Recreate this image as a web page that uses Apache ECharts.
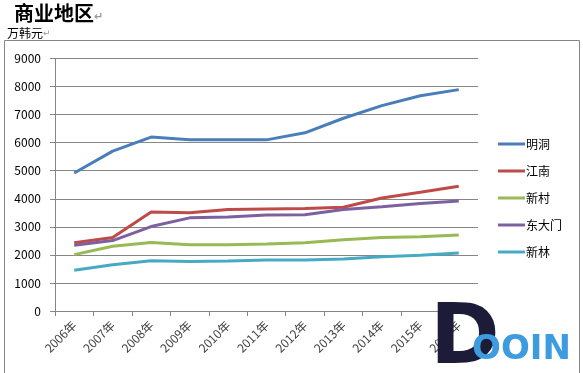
<!DOCTYPE html>
<html><head><meta charset="utf-8">
<script src="https://cdn.jsdelivr.net/npm/echarts@6/dist/echarts.min.js"></script>
<style>html,body{margin:0;padding:0;background:#fff}#c{width:583px;height:373px}</style>
</head><body><div id="c"></div>
<script>
const categories = ['2006年','2007年','2008年','2009年','2010年','2011年','2012年','2013年','2014年','2015年','2016年'];
const seriesNames = ['明洞','江南','新村','东大门','新林'];
const myeongdong = [4920, 5700, 6200, 6100, 6100, 6100, 6350, 6870, 7320, 7670, 7890];
const gangnam    = [2430, 2620, 3530, 3500, 3620, 3640, 3650, 3700, 4030, 4230, 4450];
const sinchon    = [2010, 2310, 2440, 2360, 2360, 2390, 2430, 2540, 2620, 2650, 2710];
const dongdaemun = [2340, 2510, 3010, 3320, 3350, 3420, 3430, 3620, 3720, 3830, 3920];
const sillim     = [1450, 1650, 1790, 1760, 1780, 1820, 1820, 1850, 1930, 1990, 2070];
const yTicks = [0, 1000, 2000, 3000, 4000, 5000, 6000, 7000, 8000, 9000];
const colors = ['#4A7EBB','#BE4B48','#98B954','#7D60A0','#46AAC5'];
const values = [myeongdong, gangnam, sinchon, dongdaemun, sillim];

const chart = echarts.init(document.getElementById('c'), null, {renderer:'canvas'});
const FONT = '"Noto Sans CJK SC", "DejaVu Sans", sans-serif';
chart.setOption({
  animation:false,
  textStyle:{fontFamily:FONT},
  title:[{
    text:'{t|商业地区}{m|↵}',
    left:9, top:-2,
    textStyle:{rich:{
      t:{fontSize:20, fontWeight:'bold', color:'#000', fontFamily:'"Noto Sans CJK SC"'},
      m:{fontSize:11, color:'#999', padding:[6,0,0,0]}
    }}
  },{
    text:'{t|万韩元}{m|↵}',
    left:2, top:22,
    textStyle:{fontWeight:'normal', rich:{
      t:{fontSize:12, color:'#000', fontWeight:'normal', fontFamily:'"Noto Sans CJK SC"'},
      m:{fontSize:9, color:'#999', fontWeight:'normal'}
    }}
  }],
  graphic:[
    {type:'rect', shape:{x:4.5,y:40.5,width:575,height:340}, style:{fill:'none', stroke:'#868686', lineWidth:1}, z:-1},
    {type:'text', left:430, top:299, style:{text:'D', fontSize:84, fontWeight:'bold', fill:'#1c1c38', fontFamily:'"DejaVu Sans"'}, z:10},
    {type:'text', left:472, top:333, style:{text:'OOIN', fontSize:34, fontWeight:'bold', fill:'#3d9be0', fontFamily:'"DejaVu Sans"'}, z:11}
  ],
  legend:{
    orient:'vertical', left:493, top:133,
    itemWidth:27, itemHeight:3, itemGap:15,
    icon:'rect',
    textStyle:{fontSize:12, color:'#000', padding:[0,0,0,-4]},
    data:seriesNames
  },
  grid:{left:55, right:105, top:58.5, bottom:62, containLabel:false},
  xAxis:{
    type:'category', data:categories, boundaryGap:true,
    axisLine:{lineStyle:{color:'#868686', width:1}},
    axisTick:{show:true, alignWithLabel:false, length:5, lineStyle:{color:'#868686'}},
    axisLabel:{rotate:45, fontSize:12, color:'#404040', margin:12, interval:0}
  },
  yAxis:{
    type:'value', min:0, max:9000, interval:1000,
    axisLine:{show:true, lineStyle:{color:'#868686'}},
    axisTick:{show:true, inside:false, length:5, lineStyle:{color:'#868686'}},
    axisLabel:{fontSize:12, color:'#000', margin:14, formatter:(v)=>String(v)},
    splitLine:{lineStyle:{color:'#868686', width:1}}
  },
  series: seriesNames.map((n,i)=>({
    name:n, type:'line', data:values[i], symbol:'none',
    lineStyle:{width:3, color:colors[i]}, itemStyle:{color:colors[i]}
  }))
});
</script></body></html>
